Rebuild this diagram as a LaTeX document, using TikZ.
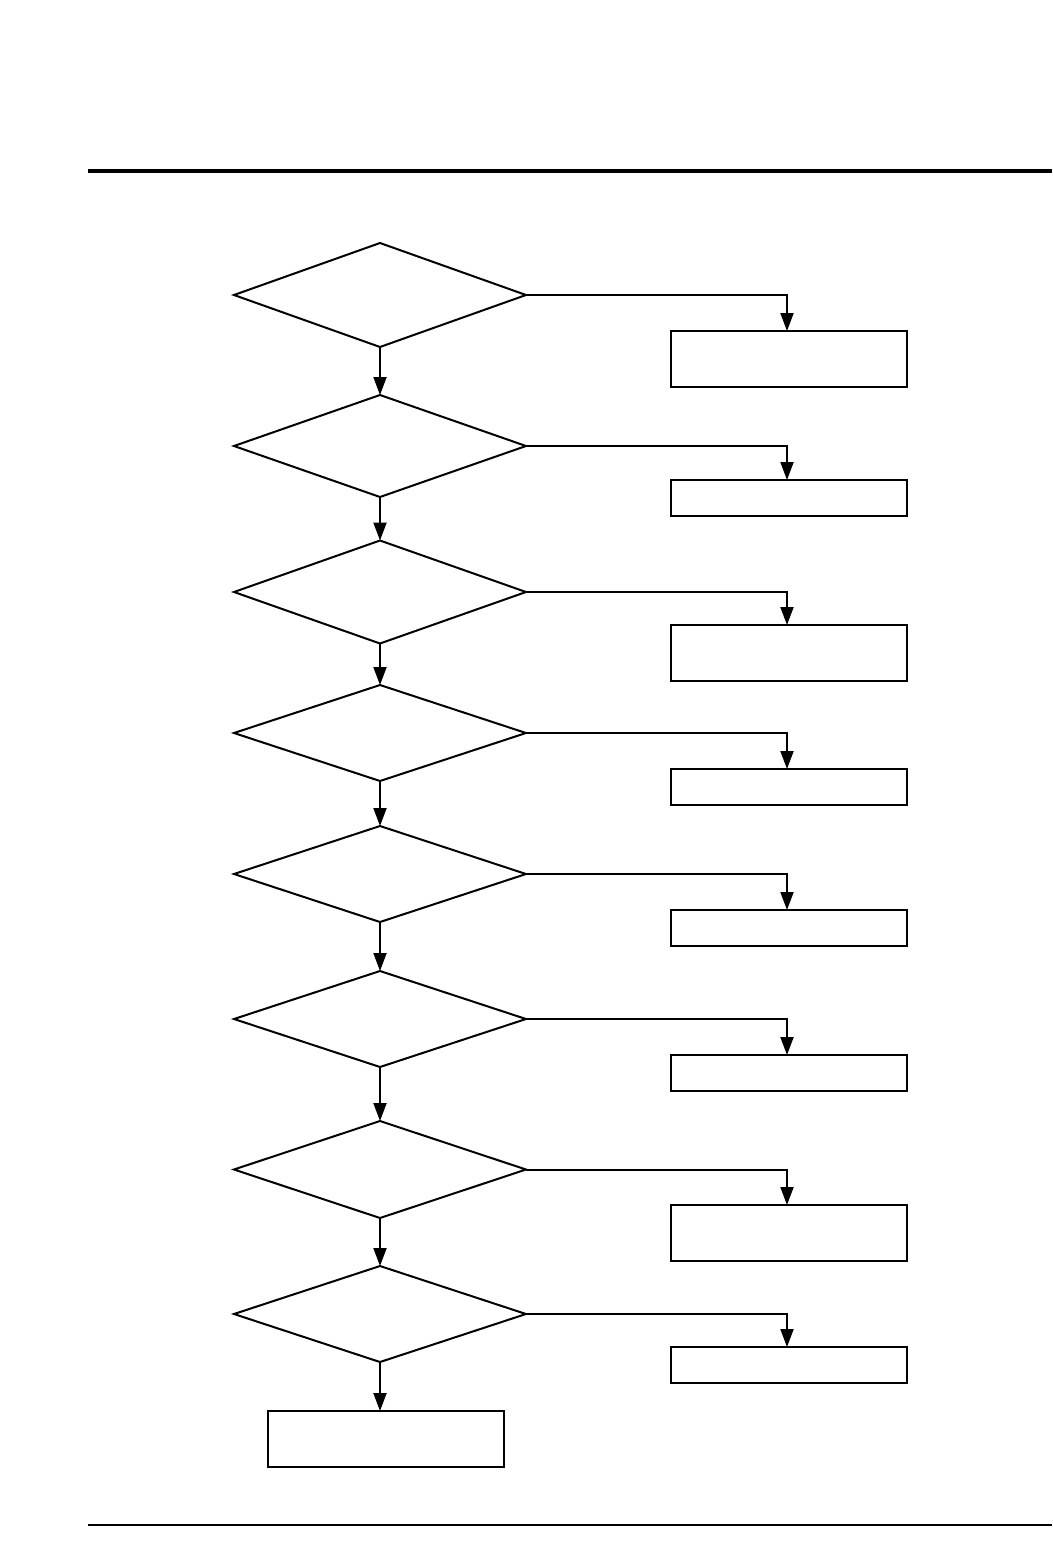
\documentclass[tikz,border=0pt]{standalone}
\usetikzlibrary{shapes.geometric,arrows.meta}
\begin{document}
\begin{tikzpicture}[x=1pt,y=-1pt,
  dec/.style={draw,line width=2pt,shape=diamond,minimum width=292pt,minimum height=100pt,inner sep=0pt,outer sep=0pt},
  boxa/.style={draw,line width=2pt,rectangle,minimum width=236pt,minimum height=56pt,inner sep=0pt,outer sep=0pt},
  boxb/.style={draw,line width=2pt,rectangle,minimum width=236pt,minimum height=36pt,inner sep=0pt,outer sep=0pt},
  conn/.style={line width=2pt,-{Triangle[length=18pt,width=13pt]}}]
\useasboundingbox (0,0) rectangle (1052,1563);
\draw[line width=4pt] (88,171) coordinate (tl) -- (1052,171) coordinate (tr);
\draw[line width=2.5pt] (88,1525) coordinate (bl) -- (1052,1525) coordinate (br);
\node[dec,minimum height=104pt] (d1) at (380,295) {};
\node[dec,minimum height=102pt] (d2) at (380,446) {};
\node[dec,minimum height=103pt] (d3) at (380,592) {};
\node[dec,minimum height=96pt] (d4) at (380,733) {};
\node[dec,minimum height=96pt] (d5) at (380,874) {};
\node[dec,minimum height=96pt] (d6) at (380,1019) {};
\node[dec,minimum height=97pt] (d7) at (380,1169.5) {};
\node[dec,minimum height=96pt] (d8) at (380,1314) {};
\node[boxa] (b1) at (789,359) {};
\node[boxb] (b2) at (789,498) {};
\node[boxa] (b3) at (789,653) {};
\node[boxb] (b4) at (789,787) {};
\node[boxb] (b5) at (789,928) {};
\node[boxb] (b6) at (789,1073) {};
\node[boxa] (b7) at (789,1233) {};
\node[boxb] (b8) at (789,1365) {};
\node[boxa] (b9) at (386,1439) {};
\draw[conn] (d1.south) -- (d2.north);
\draw[conn] (d2.south) -- (d3.north);
\draw[conn] (d3.south) -- (d4.north);
\draw[conn] (d4.south) -- (d5.north);
\draw[conn] (d5.south) -- (d6.north);
\draw[conn] (d6.south) -- (d7.north);
\draw[conn] (d7.south) -- (d8.north);
\draw[conn] (d8.south) -- (d8.south |- b9.north);
\foreach \i in {1,...,8}{
  \draw[conn] (d\i.east) -| ([xshift=-2pt]b\i.north);
}
\end{tikzpicture}
\end{document}
